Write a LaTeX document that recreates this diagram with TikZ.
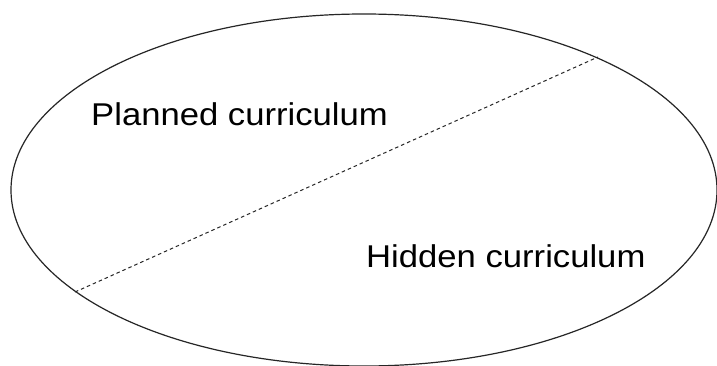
\documentclass[tikz,border=0pt]{standalone}
\usepackage{fontspec}
\setmainfont{Liberation Sans}
\begin{document}
\begin{tikzpicture}[x=1pt,y=1pt,
  lbl/.style={anchor=base west,inner sep=0pt,font=\fontsize{31.5}{36}\selectfont,xscale=1.1,transform shape},
  divider/.style={dashed,dash pattern=on 3.5pt off 3pt,line width=1pt,draw=black!85}]
\useasboundingbox (0,0) rectangle (717,365);
\clip (0,0) rectangle (717,365);
\fill[white] (0,0) rectangle (717,365);
\draw[line width=1.2pt,draw=black!85] (364,175) ellipse [x radius=353, y radius=176];
\coordinate (p1) at (75,73);
\coordinate (p2) at (598,308);
\draw[divider] (p1) -- (p2);
\node[lbl] (planned) at (91,240) {Planned curriculum};
\node[lbl] (hidden) at (366,98) {Hidden curriculum};
\end{tikzpicture}
\end{document}
